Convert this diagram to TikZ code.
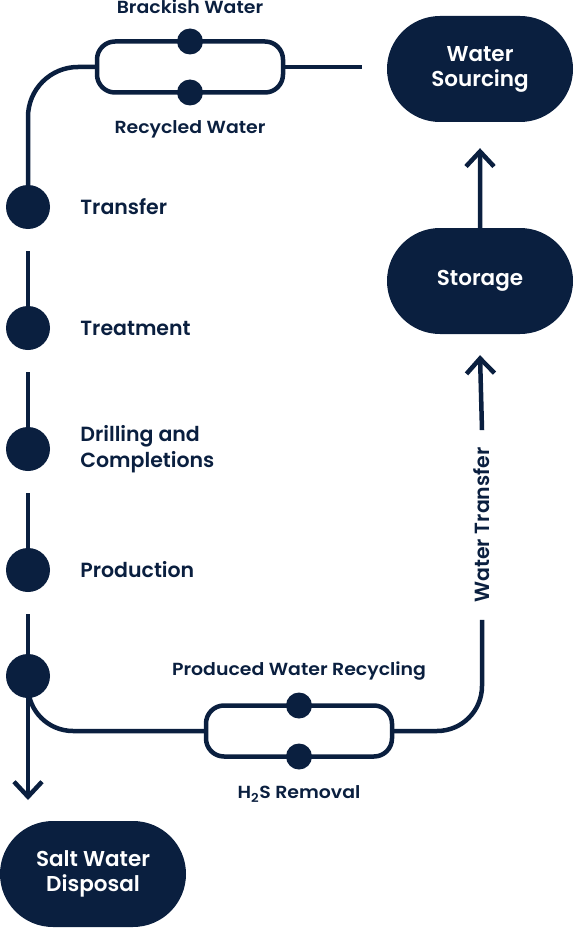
\documentclass[tikz,border=0pt]{standalone}
\usepackage{fontspec}
\setmainfont{Poppins}[BoldFont={Poppins SemiBold}]
\newfontfamily\medfont{Poppins SemiBold}
\newfontfamily\widefont{Poppins SemiBold}[FakeStretch=1.08]
\usetikzlibrary{positioning,shapes.misc,arrows.meta}
\definecolor{navy}{HTML}{0A1F3F}

\begin{document}
\begin{tikzpicture}[x=1pt,y=-1pt,
		every node/.style={text=navy},
		stage/.style={rounded rectangle,fill=navy,text=white,align=center,
			font=\fontsize{21.5}{25}\selectfont\bfseries,
			minimum width=186pt,minimum height=106pt,inner sep=0pt},
		dot/.style={circle,fill=navy,minimum size=44pt,inner sep=0pt},
		knob/.style={circle,fill=navy,minimum size=26pt,inner sep=0pt},
		valve/.style={rectangle,rounded corners=18pt,draw=navy,line width=4.5pt,
			minimum width=186pt,minimum height=51pt,inner sep=0pt,outer sep=0pt},
		tag/.style={font=\medfont\fontsize{20.5}{26}\selectfont,inner sep=0pt,align=left},
		note/.style={font=\widefont\fontsize{17.5}{20}\selectfont,inner sep=0pt},
		pipe/.style={draw=navy,line width=4.5pt},
		tip/.style={-{Straight Barb[length=15pt,width=28pt]}},
		every edge/.style={pipe}]
	\useasboundingbox (0,0) rectangle (574,928);

	% end points
	\node[stage] (WS) at (480,69) {Water\\Sourcing};
	\node[stage] (ST) at (480,281) {Storage};
	\node[stage] (SWD) at (93,874) {Salt Water\\Disposal};

	% steps
	\node[dot] (T1) at (28,207) {};
	\node[dot] (T2) at (28,328) {};
	\node[dot] (T3) at (28,449) {};
	\node[dot] (T4) at (28,570) {};
	\node[dot] (T5) at (28,676) {};
	\node[tag,right=30pt of T1] {Transfer};
	\node[tag,right=30pt of T2] {Treatment};
	\node[tag,right=30pt of T3] {Drilling and\\Completions};
	\node[tag,right=30pt of T4] {Production};

	% sources
	\node[valve] (V1) at (190,67) {};
	\node[knob] (K1) at (V1.north) {};
	\node[knob] (K2) at (V1.south) {};
	\node[note,above=14pt of K1] {Brackish Water};
	\node[note,below=15pt of K2] {Recycled Water};

	% recycling
	\node[valve] (V2) at (299,731) {};
	\node[knob] (K3) at (V2.north) {};
	\node[knob] (K4) at (V2.south) {};
	\node[note,above=12pt of K3] {Produced Water Recycling};
	\node[note,below=16pt of K4] {H\textsubscript{2}S Removal};

	\node[tag,rotate=90,inner xsep=17pt] (WT) at (482,525) {Water Transfer};
	\coordinate (WSin) at (362,67);
	\coordinate (SWDin) at (28,800);

	\draw[pipe] (V1.east) -- (WSin);
	\draw[pipe,rounded corners=50pt] (V1.west) -| (T1.north);
	\path ([yshift=-22pt]T1.south) edge (T2);
	\path ([yshift=-22pt]T2.south) edge (T3);
	\path ([yshift=-22pt]T3.south) edge (T4);
	\path ([yshift=-22pt]T4.south) edge (T5);
	\path[tip] (T5) edge (SWDin);
	\draw[pipe,rounded corners=45pt] (T5.center) |- (V2.west);
	\draw[pipe,rounded corners=45pt] (V2.east) -| (WT.west);
	\path[tip] (WT.east) edge ([yshift=-21pt]ST.south);
	\path[tip] (ST) edge ([yshift=-26pt]WS.south);
\end{tikzpicture}
\end{document}
